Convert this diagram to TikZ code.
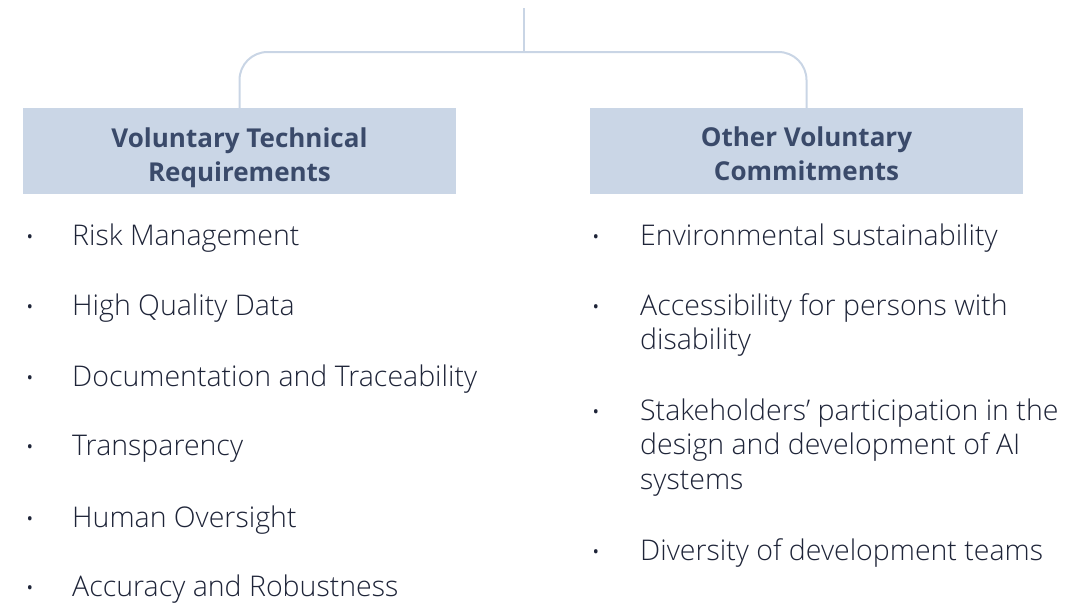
\documentclass[tikz,border=0pt]{standalone}
\usepackage{fontspec}
\setmainfont{Open Sans}
\newfontfamily\bodyfont{Open Sans}[UprightFont=* Light]
\definecolor{boxblue}{HTML}{CAD6E6}
\definecolor{linecol}{HTML}{C9D5E5}
\definecolor{hdrtext}{HTML}{3A4A6A}
\definecolor{bodytext}{HTML}{1E2438}
\begin{document}
\begin{tikzpicture}[x=1pt,y=-1pt,
  hdr/.style={fill=boxblue, minimum width=433pt, minimum height=86pt, inner sep=0pt},
  hdrlabel/.style={anchor=base, align=center, inner sep=0pt, text=hdrtext,
    font=\fontsize{26}{34}\selectfont\bfseries},
  item/.style={anchor=base west, align=left, inner sep=0pt, text=bodytext,
    font=\bodyfont\fontsize{28.5}{34.5}\selectfont},
  dot/.style={anchor=base, inner sep=0pt, text=bodytext, font=\bodyfont\fontsize{24}{24}\selectfont},
  conn/.style={draw=linecol, line width=2pt, rounded corners=28pt}]
\useasboundingbox (0,0) rectangle (1091,603);

% column headers (base anchor of a two-line node sits on its last line)
\node[hdr] (lbox) at (239.5,151) {};
\node[hdrlabel] (lhdr) at (239.5,181) {Voluntary Technical\\Requirements};
\node[hdr] (rbox) at (806.5,151) {};
\node[hdrlabel] (rhdr) at (806.5,180) {Other Voluntary\\Commitments};

% tree connector
\coordinate (top) at (524,8);
\coordinate (hub) at (524,52);
\draw[conn] (top) -- (hub);
\draw[conn] (lbox.north) |- (hub -| rbox.north) -- (rbox.north);

% left list
\foreach \y/\t [count=\i] in {245/Risk Management, 315/High Quality Data,
    386/Documentation and Traceability, 455/Transparency,
    527/Human Oversight, 596/Accuracy and Robustness}{
  \node[dot] (lb\i) at (30,\y) {\textbullet};
  \node[item] (li\i) at (72,\y) {\t};
}

% right list
\node[dot] (rb1) at (596,245) {\textbullet};
\node[item] (ri1) at (640,245) {Environmental sustainability};
\node[dot] (rb2) at (596,315) {\textbullet};
\node[item] (ri2) at (640,349.5) {Accessibility for persons with\\disability};
\node[dot] (rb3) at (596,420) {\textbullet};
\node[item] (ri3) at (640,489) {Stakeholders’ participation in the\\design and development of AI\\systems};
\node[dot] (rb4) at (596,560) {\textbullet};
\node[item] (ri4) at (640,560) {Diversity of development teams};
\end{tikzpicture}
\end{document}
